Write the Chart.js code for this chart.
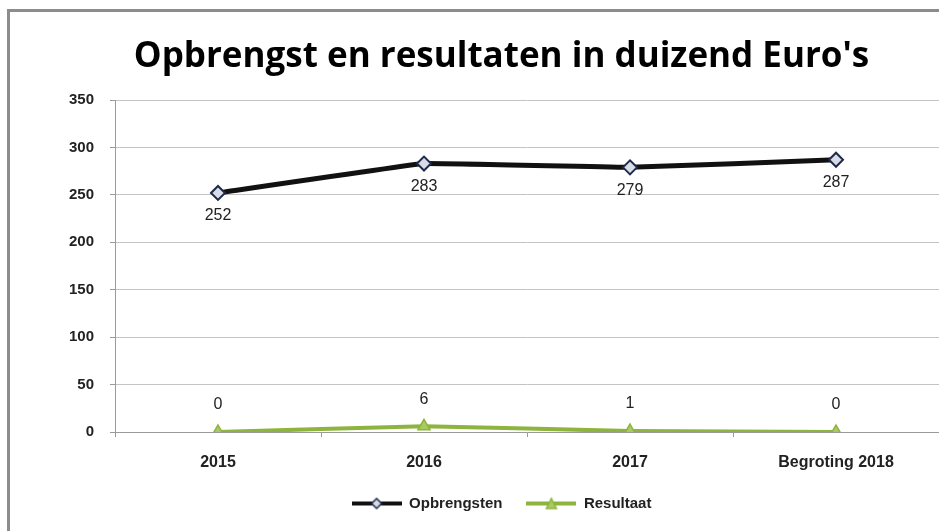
<!DOCTYPE html>
<html>
<head>
<meta charset="utf-8">
<script src="https://cdn.jsdelivr.net/npm/chart.js@4/dist/chart.umd.min.js"></script>
<style>
  html, body { margin: 0; padding: 0; background: #fff; overflow: hidden; }
  #frame {
    position: absolute; left: 7px; top: 9px; width: 960px; height: 560px;
    border-left: 3px solid #8c8c8c; border-top: 3px solid #8c8c8c;
  }
  #wrap { position: absolute; left: 0; top: 0; width: 948px; height: 531px; }
</style>
</head>
<body>
<div id="frame"></div>
<div id="wrap"><canvas id="chart" width="948" height="531"></canvas></div>
<script>
const categories = ['2015', '2016', '2017', 'Begroting 2018'];
const opbrengsten = [252, 283, 279, 287];
const resultaat = [0, 6, 1, 0];
const yTicks = [0, 50, 100, 150, 200, 250, 300, 350];

const darkLine = '#111111';
const navy = '#1f2a4a';
const green = '#8db43c';
const labelFont = '"Liberation Sans", Arial, sans-serif';

// small legend icon: line with marker in the middle
function legendIcon(color, marker, fill, stroke) {
    const c = document.createElement('canvas');
    c.width = 50; c.height = 14;
    const g = c.getContext('2d');
    g.strokeStyle = color; g.lineWidth = 4;
    g.beginPath(); g.moveTo(0, 7); g.lineTo(50, 7); g.stroke();
    g.fillStyle = fill; g.strokeStyle = stroke; g.lineWidth = 1.5;
    g.beginPath();
    if (marker === 'diamond') {
        g.moveTo(25, 2); g.lineTo(30, 7); g.lineTo(25, 12); g.lineTo(20, 7);
    } else {
        g.moveTo(25, 2); g.lineTo(30, 12); g.lineTo(20, 12);
    }
    g.closePath(); g.fill(); g.stroke();
    return c;
}

// value labels drawn at each point
const valueLabels = {
    id: 'valueLabels',
    afterDatasetsDraw(chart) {
        const ctx = chart.ctx;
        ctx.save();
        ctx.font = '16px ' + labelFont;
        ctx.fillStyle = '#222';
        ctx.textAlign = 'center';
        ctx.textBaseline = 'middle';
        chart.data.datasets.forEach((ds, i) => {
            const meta = chart.getDatasetMeta(i);
            meta.data.forEach((pt, j) => {
                const dy = i === 0 ? 23 : -27;
                ctx.fillText(ds.data[j], pt.x, pt.y + dy);
            });
        });
        ctx.restore();
    }
};

const ctx = document.getElementById('chart').getContext('2d');
new Chart(ctx, {
    type: 'line',
    data: {
        labels: categories,
        datasets: [{
            label: 'Opbrengsten',
            data: opbrengsten,
            borderColor: darkLine,
            borderWidth: 5,
            pointStyle: 'rectRot',
            pointRadius: 7,
            pointBackgroundColor: '#d9dce6',
            pointBorderColor: navy,
            pointBorderWidth: 2,
            tension: 0.05
        }, {
            label: 'Resultaat',
            data: resultaat,
            borderColor: green,
            borderWidth: 4,
            pointStyle: 'triangle',
            pointRadius: 7,
            pointBackgroundColor: '#a9c964',
            pointBorderColor: green,
            pointBorderWidth: 1.5,
            tension: 0.05
        }]
    },
    options: {
        responsive: false,
        animation: false,
        layout: { padding: { left: 55, right: 0, top: 36, bottom: 10 } },
        plugins: {
            title: {
                display: true,
                text: "Opbrengst en resultaten in duizend Euro's",
                color: '#000',
                font: { family: '"Open Sans", Lato, sans-serif', size: 35, weight: 'bold' },
                padding: { top: 0, bottom: 22 }
            },
            legend: {
                position: 'bottom',
                labels: {
                    usePointStyle: true,
                    pointStyleWidth: 50,
                    color: '#222',
                    font: { family: labelFont, size: 15, weight: 'bold' },
                    padding: 24,
                    generateLabels: chart => [
                        { text: 'Opbrengsten', pointStyle: legendIcon(darkLine, 'diamond', '#d9dce6', navy), datasetIndex: 0, fillStyle: darkLine, strokeStyle: darkLine, lineWidth: 0, fontColor: '#222' },
                        { text: 'Resultaat', pointStyle: legendIcon(green, 'triangle', '#a9c964', green), datasetIndex: 1, fillStyle: green, strokeStyle: green, lineWidth: 0, fontColor: '#222' }
                    ]
                }
            },
            tooltip: { enabled: false }
        },
        scales: {
            x: {
                offset: true,
                afterFit: s => { s.height = 40; },
                grid: { display: true, drawOnChartArea: false, offset: true, tickLength: 5, color: '#9a9a9a' },
                border: { color: '#9a9a9a', width: 1 },
                ticks: { color: '#222', padding: 16, font: { family: labelFont, size: 16, weight: 'bold' } }
            },
            y: {
                min: 0,
                max: 350,
                afterFit: s => { s.width = 60; },
                afterBuildTicks: s => { s.ticks = yTicks.map(v => ({ value: v })); },
                grid: { color: '#c4c4c4', tickLength: 5, tickColor: '#9a9a9a' },
                border: { color: '#9a9a9a', width: 1 },
                ticks: { color: '#222', padding: 16, font: { family: labelFont, size: 15, weight: 'bold' } }
            }
        }
    },
    plugins: [valueLabels]
});
</script>
</body>
</html>
